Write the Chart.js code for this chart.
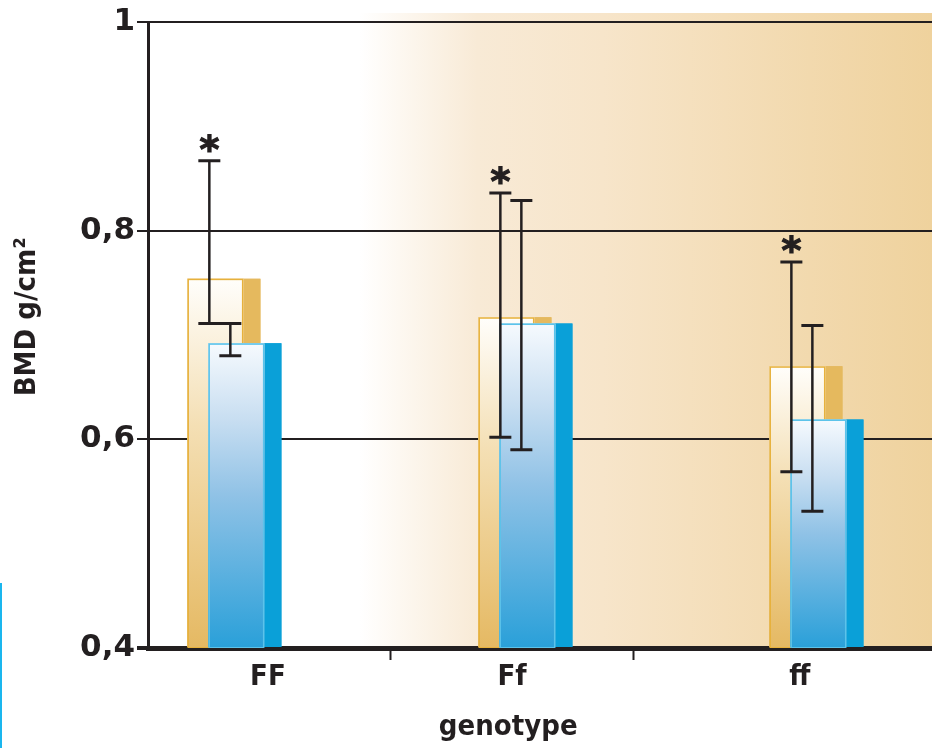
<!DOCTYPE html>
<html>
<head>
<meta charset="utf-8">
<script src="https://cdn.jsdelivr.net/npm/chart.js@4.4.0/dist/chart.umd.min.js"></script>
<style>
  html, body { margin: 0; padding: 0; background: #fff; overflow: hidden; }
  #wrap { position: relative; width: 932px; height: 748px; }
  #borda { position: absolute; left: 0; top: 583px; width: 2px; height: 165px; background: #1ab6ee; }
</style>
</head>
<body>
<div id="wrap">
  <canvas id="grafico"></canvas>
  <div id="borda"></div>
</div>
<script>
// dados
const genotipos = ['FF', 'Ff', 'ff'];
const bmdTan = [0.754, 0.717, 0.670];
const bmdAzul = [0.692, 0.711, 0.619];
const tanErroAlto = [0.867, 0.836, 0.770];
const tanErroBaixo = [0.711, 0.602, 0.569];
const azulErroAlto = [0.711, 0.829, 0.709];
const azulErroBaixo = [0.680, 0.590, 0.531];
const tanSignificativo = [true, true, true];
const yTicks = [0.4, 0.6, 0.8, 1];
const yTickLabels = ['0,4', '0,6', '0,8', '1'];

// posição do eixo x (categorias em 1, 2, 3)
const X_MIN = 0.703, X_MAX = 3.397;
const posRotulos = [1.115, 1.954, 2.943];
const posDivisoes = [1.535, 2.373];

const ESCURO = '#231f20';
const FRENTE = 0.767; // parte da barra que é a face da frente
const fonteCond = "'DejaVu Sans Condensed', 'DejaVu Sans', sans-serif";
const NB = '\u00a0';

const estilos = [
    { lado: '#e5b95e', linha: '#e7b13c',
      paradas: [[0, '#fffefb'], [0.4, '#f4dfb4'], [1, '#e5b963']] },
    { lado: '#0aa0d8', linha: '#5cc3ea',
      paradas: [[0, '#f6fafe'], [0.25, '#c8def1'], [0.5, '#90c2e6'], [1, '#2aa0d9']] }
];

// fundo em degradê atrás da área do gráfico
const fundo = {
    id: 'fundo',
    beforeDraw(chart) {
        const { ctx, chartArea: a } = chart;
        const g = ctx.createLinearGradient(a.left, 0, a.right, 0);
        g.addColorStop(0, '#ffffff');
        g.addColorStop(0.27, '#ffffff');
        g.addColorStop(0.32, '#fdf8f1');
        g.addColorStop(0.42, '#f8ead6');
        g.addColorStop(0.58, '#f7e5ca');
        g.addColorStop(1, '#efd29d');
        ctx.save();
        ctx.fillStyle = g;
        ctx.fillRect(a.left, a.top - 9, a.right - a.left, a.bottom - a.top + 9);
        ctx.restore();
    }
};

// redesenha as barras em ordem (bege atrás, azul na frente) com a face em degradê,
// depois as barras de erro e os asteriscos
const barras3d = {
    id: 'barras3d',
    afterDatasetsDraw(chart) {
        const ctx = chart.ctx;
        const a = chart.chartArea;
        ctx.save();
        ctx.beginPath();
        ctx.rect(a.left, 0, a.right - a.left, a.bottom);
        ctx.clip();
        chart.data.datasets.forEach((ds, di) => {
            const est = estilos[di];
            chart.getDatasetMeta(di).data.forEach(bar => {
                bar.draw(ctx);
                const { x, y, base, width } = bar.getProps(['x', 'y', 'base', 'width']);
                const esq = x - width / 2;
                const w = width * FRENTE;
                const g = ctx.createLinearGradient(0, y, 0, base);
                est.paradas.forEach(([p, c]) => g.addColorStop(p, c));
                ctx.fillStyle = g;
                ctx.fillRect(esq, y, w, base - y);
                ctx.strokeStyle = est.linha;
                ctx.lineWidth = 1.5;
                ctx.strokeRect(esq + 0.75, y + 0.75, w - 1.5, base - y);
            });
        });

        const yEixo = chart.scales.y;
        const erros = [
            [tanErroBaixo, tanErroAlto, tanSignificativo],
            [azulErroBaixo, azulErroAlto, null]
        ];
        ctx.strokeStyle = ESCURO;
        ctx.fillStyle = ESCURO;
        erros.forEach(([baixo, alto, sig], di) => {
            chart.getDatasetMeta(di).data.forEach((bar, i) => {
                const ex = bar.x - bar.width * 0.2;
                const yA = yEixo.getPixelForValue(alto[i]);
                const yB = yEixo.getPixelForValue(baixo[i]);
                ctx.lineWidth = 2.5;
                ctx.beginPath();
                ctx.moveTo(ex, yA); ctx.lineTo(ex, yB);
                ctx.stroke();
                ctx.lineWidth = 3;
                ctx.beginPath();
                ctx.moveTo(ex - 11, yA); ctx.lineTo(ex + 11, yA);
                ctx.moveTo(ex - 11, yB); ctx.lineTo(ex + 11, yB);
                ctx.stroke();
                if (sig && sig[i]) {
                    ctx.font = "bold 38px 'DejaVu Sans', sans-serif";
                    ctx.textAlign = 'center';
                    ctx.textBaseline = 'alphabetic';
                    const m = ctx.measureText('*');
                    const yt = yA - 9 - m.actualBoundingBoxDescent;
                    ctx.fillText('*', ex, yt);
                    ctx.lineWidth = 1.2;
                    ctx.strokeText('*', ex, yt);
                }
            });
        });
        ctx.restore();
    }
};

new Chart(document.getElementById('grafico'), {
    type: 'bar',
    data: {
        datasets: [
            {
                label: 'bege',
                data: genotipos.map((g, i) => ({ x: i + 1, y: bmdTan[i] })),
                xAxisID: 'xb',
                base: yTicks[0],
                backgroundColor: estilos[0].lado,
                borderWidth: 0,
                categoryPercentage: 0.1443,
                barPercentage: 3.476
            },
            {
                label: 'azul',
                data: genotipos.map((g, i) => ({ x: i + 1, y: bmdAzul[i] })),
                xAxisID: 'xb',
                base: yTicks[0],
                backgroundColor: estilos[1].lado,
                borderWidth: 0,
                categoryPercentage: 0.1443,
                barPercentage: 3.476
            }
        ]
    },
    options: {
        responsive: true,
        maintainAspectRatio: false,
        animation: false,
        layout: { padding: { top: 22, left: 4, right: 0, bottom: 0 } },
        plugins: { legend: { display: false }, tooltip: { enabled: false } },
        scales: {
            xb: {
                type: 'linear',
                display: false,
                min: X_MIN,
                max: X_MAX,
                offset: false,
                grid: { offset: false },
                afterBuildTicks: s => { s.ticks = genotipos.map((g, i) => ({ value: i + 1 })); }
            },
            x: {
                type: 'linear',
                position: 'bottom',
                min: X_MIN,
                max: X_MAX,
                offset: false,
                afterBuildTicks: s => {
                    s.ticks = posRotulos.concat(posDivisoes).sort((a, b) => a - b).map(v => ({ value: v }));
                },
                afterFit: s => { s.height = 100; },
                ticks: {
                    autoSkip: false,
                    maxRotation: 0,
                    minRotation: 0,
                    padding: 0,
                    color: ESCURO,
                    font: { family: fonteCond, size: 29, weight: 'bold' },
                    callback: v => {
                        const i = posRotulos.indexOf(v);
                        return i >= 0 ? genotipos[i] : '';
                    }
                },
                grid: {
                    offset: false,
                    drawOnChartArea: false,
                    tickLength: 12,
                    tickWidth: 2,
                    tickColor: c => posDivisoes.includes(c.tick && c.tick.value) ? ESCURO : 'rgba(0,0,0,0)'
                },
                border: { display: true, color: ESCURO, width: 5 },
                title: {
                    display: true,
                    // espaços no fim deslocam o título para a esquerda, como no original
                    text: 'genotype' + NB.repeat(7),
                    color: ESCURO,
                    font: { family: fonteCond, size: 29, weight: 'bold' },
                    padding: { top: 0, bottom: 3 }
                }
            },
            y: {
                min: 0.4,
                max: 1,
                afterBuildTicks: s => { s.ticks = yTicks.map(v => ({ value: v })); },
                afterFit: s => { s.width = 144; },
                ticks: {
                    padding: 2,
                    color: ESCURO,
                    font: { family: "'DejaVu Sans', sans-serif", size: 31, weight: 'bold' },
                    callback: (v, i) => yTickLabels[i]
                },
                grid: {
                    color: ESCURO,
                    lineWidth: 2,
                    tickLength: 11,
                    tickWidth: c => (c.tick && c.tick.value === 0.4 ? 4 : 2)
                },
                border: { display: true, color: ESCURO, width: 3 },
                title: {
                    display: true,
                    text: NB.repeat(4) + 'BMD g/cm²',
                    color: ESCURO,
                    font: { family: fonteCond, size: 29, weight: 'bold' },
                    padding: { top: 6, bottom: 0 }
                }
            }
        }
    },
    plugins: [fundo, barras3d]
});
</script>
</body>
</html>
